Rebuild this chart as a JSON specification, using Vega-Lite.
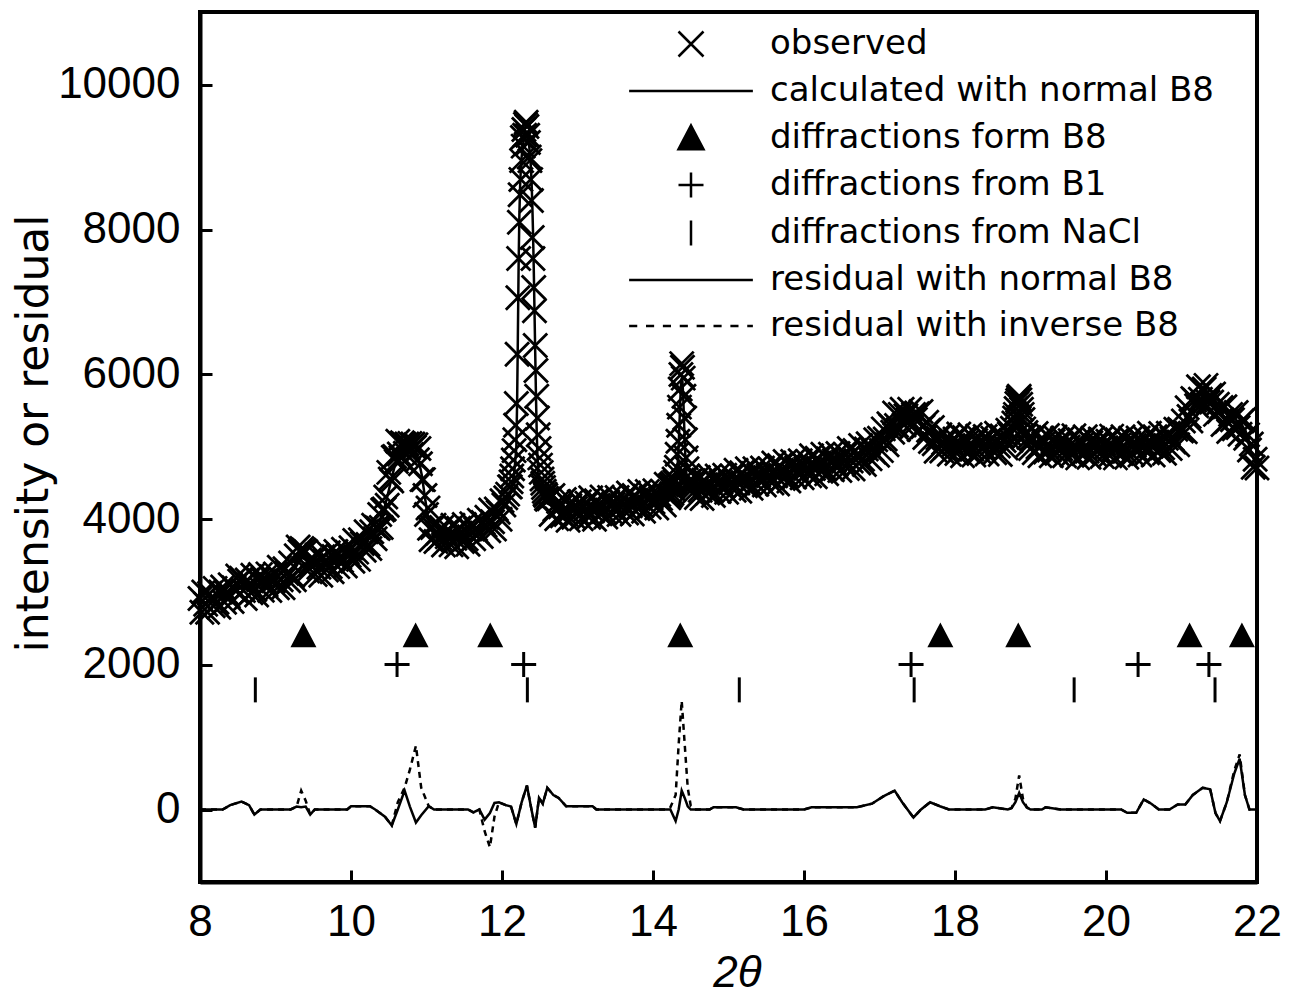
{
  "$schema": "https://vega.github.io/schema/vega-lite/v6.json",
  "width": 1057,
  "height": 870,
  "autosize": {"type": "none"},
  "padding": {"left": 200, "top": 12, "right": 37, "bottom": 114},
  "background": "white",
  "config": {
    "font": "Liberation Sans",
    "view": {"stroke": "black", "strokeWidth": 4},
    "axis": {"ticks": true, "tickColor": "black", "tickOpacity": 1}
  },
  "resolve": {"axis": {"x": "independent", "y": "independent"}},
  "datasets": {
    "obs": [
      {"t":8.000,"o":2910},{"t":8.025,"o":2720},{"t":8.050,"o":3000},{"t":8.075,"o":2830},{"t":8.100,"o":2720},{"t":8.125,"o":2980},{"t":8.150,"o":2920},{"t":8.175,"o":2810},{"t":8.200,"o":3050},{"t":8.225,"o":2860},{"t":8.250,"o":2790},{"t":8.275,"o":3000},{"t":8.300,"o":3070},{"t":8.325,"o":2860},{"t":8.350,"o":2990},{"t":8.375,"o":2940},{"t":8.400,"o":3100},{"t":8.425,"o":2870},{"t":8.450,"o":3060},{"t":8.475,"o":3015},{"t":8.500,"o":3220},{"t":8.525,"o":3150},{"t":8.550,"o":3190},{"t":8.575,"o":3020},{"t":8.600,"o":2910},{"t":8.625,"o":3165},{"t":8.650,"o":3100},{"t":8.675,"o":2990},{"t":8.700,"o":3230},{"t":8.725,"o":3035},{"t":8.750,"o":2960},{"t":8.775,"o":3170},{"t":8.800,"o":3240},{"t":8.825,"o":3025},{"t":8.850,"o":3150},{"t":8.875,"o":3095},{"t":8.900,"o":3250},{"t":8.925,"o":3020},{"t":8.950,"o":3210},{"t":8.975,"o":3155},{"t":9.000,"o":3250},{"t":9.025,"o":3060},{"t":9.050,"o":3340},{"t":9.075,"o":3170},{"t":9.100,"o":3060},{"t":9.125,"o":3320},{"t":9.150,"o":3260},{"t":9.175,"o":3155},{"t":9.200,"o":3400},{"t":9.225,"o":3225},{"t":9.250,"o":3170},{"t":9.275,"o":3500},{"t":9.300,"o":3620},{"t":9.325,"o":3560},{"t":9.350,"o":3600},{"t":9.375,"o":3580},{"t":9.400,"o":3560},{"t":9.425,"o":3290},{"t":9.450,"o":3440},{"t":9.475,"o":3365},{"t":9.500,"o":3440},{"t":9.525,"o":3240},{"t":9.550,"o":3510},{"t":9.575,"o":3340},{"t":9.600,"o":3230},{"t":9.625,"o":3485},{"t":9.650,"o":3420},{"t":9.675,"o":3305},{"t":9.700,"o":3540},{"t":9.725,"o":3350},{"t":9.750,"o":3280},{"t":9.775,"o":3490},{"t":9.800,"o":3560},{"t":9.825,"o":3350},{"t":9.850,"o":3480},{"t":9.875,"o":3430},{"t":9.900,"o":3590},{"t":9.925,"o":3360},{"t":9.950,"o":3550},{"t":9.975,"o":3505},{"t":10.000,"o":3610},{"t":10.025,"o":3425},{"t":10.050,"o":3710},{"t":10.075,"o":3550},{"t":10.100,"o":3450},{"t":10.125,"o":3720},{"t":10.150,"o":3670},{"t":10.175,"o":3575},{"t":10.200,"o":3830},{"t":10.225,"o":3655},{"t":10.250,"o":3600},{"t":10.275,"o":3830},{"t":10.300,"o":3920},
      {"t":10.32,"o":3735},{"t":10.34,"o":3890},{"t":10.36,"o":3875},{"t":10.38,"o":4070},{"t":10.40,"o":3890},{"t":10.42,"o":4130},{"t":10.44,"o":4145},{"t":10.46,"o":4310},{"t":10.48,"o":4195},{"t":10.50,"o":4650},{"t":10.52,"o":4560},{"t":10.54,"o":4530},{"t":10.56,"o":4860},{"t":10.58,"o":4870},{"t":10.60,"o":4800},{"t":10.62,"o":5080},{"t":10.64,"o":4905},{"t":10.66,"o":4850},{"t":10.68,"o":5060},{"t":10.70,"o":5040},{"t":10.72,"o":4915},{"t":10.74,"o":5040},{"t":10.76,"o":4985},{"t":10.78,"o":5050},{"t":10.80,"o":4895},{"t":10.82,"o":5040},{"t":10.84,"o":4995},{"t":10.86,"o":5030},{"t":10.88,"o":4825},{"t":10.90,"o":4980},{"t":10.92,"o":4770},{"t":10.94,"o":4550},{"t":10.96,"o":4550},{"t":10.98,"o":4330},{"t":11.00,"o":4070},{"t":11.02,"o":4160},{"t":11.04,"o":3880},{"t":11.06,"o":3720},{"t":11.08,"o":3890},{"t":11.10,"o":3920},
      {"t":11.125,"o":3695},{"t":11.150,"o":3810},{"t":11.175,"o":3745},{"t":11.200,"o":3890},{"t":11.225,"o":3648},{"t":11.250,"o":3825},{"t":11.275,"o":3762},{"t":11.300,"o":3850},{"t":11.325,"o":3650},{"t":11.350,"o":3920},{"t":11.375,"o":3742},{"t":11.400,"o":3625},{"t":11.425,"o":3878},{"t":11.450,"o":3810},{"t":11.475,"o":3695},{"t":11.500,"o":3930},{"t":11.525,"o":3735},{"t":11.550,"o":3660},{"t":11.575,"o":3870},{"t":11.600,"o":3940},{"t":11.625,"o":3735},{"t":11.650,"o":3870},{"t":11.675,"o":3825},{"t":11.700,"o":3990},{"t":11.725,"o":3765},{"t":11.750,"o":3960},{"t":11.775,"o":3920},{"t":11.800,"o":4030},{"t":11.825,"o":3845},{"t":11.850,"o":4130},{"t":11.875,"o":3970},{"t":11.900,"o":3870},{"t":11.925,"o":4145},{"t":11.950,"o":4100},{"t":11.975,"o":4005},{"t":12.000,"o":4260},{"t":12.025,"o":4200},{"t":12.050,"o":4300},{"t":12.075,"o":4350},{"t":12.100,"o":4450},
      {"t":12.11,"o":4450},{"t":12.12,"o":4520},{"t":12.13,"o":4600},{"t":12.14,"o":4700},{"t":12.15,"o":4820},{"t":12.16,"o":4950},{"t":12.17,"o":5100},{"t":12.18,"o":5300},{"t":12.19,"o":5600},{"t":12.20,"o":6280},{"t":12.21,"o":7060},{"t":12.22,"o":7600},{"t":12.23,"o":8100},{"t":12.24,"o":8480},{"t":12.25,"o":8690},{"t":12.26,"o":8950},{"t":12.27,"o":9270},{"t":12.28,"o":9150},{"t":12.29,"o":9380},{"t":12.30,"o":9300},{"t":12.31,"o":9450},{"t":12.32,"o":9480},{"t":12.33,"o":9420},{"t":12.34,"o":9300},{"t":12.35,"o":9200},{"t":12.36,"o":9000},{"t":12.37,"o":8950},{"t":12.38,"o":8690},{"t":12.39,"o":8400},{"t":12.40,"o":7890},{"t":12.41,"o":7600},{"t":12.42,"o":7200},{"t":12.43,"o":6880},{"t":12.44,"o":6400},{"t":12.45,"o":6055},{"t":12.46,"o":5700},{"t":12.47,"o":5400},{"t":12.48,"o":5170},{"t":12.49,"o":4980},{"t":12.50,"o":4850},{"t":12.51,"o":4750},{"t":12.52,"o":4650},{"t":12.53,"o":4560},{"t":12.54,"o":4500},{"t":12.55,"o":4440},{"t":12.56,"o":4390},{"t":12.57,"o":4350},{"t":12.58,"o":4330},{"t":12.59,"o":4290},{"t":12.60,"o":4280},
      {"t":12.625,"o":4285},{"t":12.650,"o":4070},{"t":12.675,"o":4330},{"t":12.700,"o":4140},{"t":12.725,"o":4010},{"t":12.750,"o":4250},{"t":12.775,"o":4175},{"t":12.800,"o":4050},{"t":12.825,"o":4275},{"t":12.850,"o":4070},{"t":12.875,"o":3990},{"t":12.900,"o":4190},{"t":12.925,"o":4250},{"t":12.950,"o":4030},{"t":12.975,"o":4150},{"t":13.000,"o":4090},{"t":13.025,"o":4245},{"t":13.050,"o":4010},{"t":13.075,"o":4190},{"t":13.100,"o":4130},{"t":13.125,"o":4225},{"t":13.150,"o":4030},{"t":13.175,"o":4300},{"t":13.200,"o":4120},{"t":13.225,"o":4005},{"t":13.250,"o":4260},{"t":13.275,"o":4195},{"t":13.300,"o":4080},{"t":13.325,"o":4310},{"t":13.350,"o":4110},{"t":13.375,"o":4035},{"t":13.400,"o":4240},{"t":13.425,"o":4305},{"t":13.450,"o":4090},{"t":13.475,"o":4210},{"t":13.500,"o":4150},{"t":13.525,"o":4305},{"t":13.550,"o":4070},{"t":13.575,"o":4255},{"t":13.600,"o":4200},{"t":13.625,"o":4290},{"t":13.650,"o":4090},{"t":13.675,"o":4365},{"t":13.700,"o":4190},{"t":13.725,"o":4075},{"t":13.750,"o":4330},{"t":13.775,"o":4265},{"t":13.800,"o":4150},{"t":13.825,"o":4385},{"t":13.850,"o":4190},{"t":13.875,"o":4115},{"t":13.900,"o":4320},{"t":13.925,"o":4385},{"t":13.950,"o":4170},{"t":13.975,"o":4295},{"t":14.000,"o":4240},{"t":14.025,"o":4395},{"t":14.050,"o":4160},{"t":14.075,"o":4345},{"t":14.100,"o":4290},{"t":14.125,"o":4390},{"t":14.150,"o":4200},{"t":14.175,"o":4485},{"t":14.200,"o":4320},
      {"t":14.21,"o":4300},{"t":14.22,"o":4460},{"t":14.23,"o":4330},{"t":14.24,"o":4480},{"t":14.25,"o":4360},{"t":14.26,"o":4500},{"t":14.27,"o":4420},{"t":14.28,"o":4560},{"t":14.29,"o":4520},{"t":14.30,"o":4650},{"t":14.31,"o":4720},{"t":14.32,"o":4900},{"t":14.33,"o":5080},{"t":14.34,"o":5300},{"t":14.35,"o":5550},{"t":14.36,"o":5800},{"t":14.37,"o":6000},{"t":14.38,"o":6150},{"t":14.39,"o":6100},{"t":14.40,"o":5950},{"t":14.41,"o":5700},{"t":14.42,"o":5400},{"t":14.43,"o":5100},{"t":14.44,"o":4850},{"t":14.45,"o":4700},{"t":14.46,"o":4600},{"t":14.47,"o":4520},{"t":14.48,"o":4480},{"t":14.49,"o":4530},{"t":14.50,"o":4400},{"t":14.52,"o":4500},{"t":14.54,"o":4380},
      {"t":14.550,"o":4500},{"t":14.575,"o":4305},{"t":14.600,"o":4580},{"t":14.625,"o":4405},{"t":14.650,"o":4290},{"t":14.675,"o":4545},{"t":14.700,"o":4480},{"t":14.725,"o":4365},{"t":14.750,"o":4600},{"t":14.775,"o":4405},{"t":14.800,"o":4330},{"t":14.825,"o":4535},{"t":14.850,"o":4600},{"t":14.875,"o":4385},{"t":14.900,"o":4510},{"t":14.925,"o":4455},{"t":14.950,"o":4610},{"t":14.975,"o":4375},{"t":15.000,"o":4560},{"t":15.025,"o":4505},{"t":15.050,"o":4600},{"t":15.075,"o":4405},{"t":15.100,"o":4680},{"t":15.125,"o":4505},{"t":15.150,"o":4390},{"t":15.175,"o":4645},{"t":15.200,"o":4580},{"t":15.225,"o":4465},{"t":15.250,"o":4700},{"t":15.275,"o":4505},{"t":15.300,"o":4430},{"t":15.325,"o":4635},{"t":15.350,"o":4700},{"t":15.375,"o":4485},{"t":15.400,"o":4610},{"t":15.425,"o":4555},{"t":15.450,"o":4710},{"t":15.475,"o":4475},{"t":15.500,"o":4660},{"t":15.525,"o":4605},{"t":15.550,"o":4700},{"t":15.575,"o":4505},{"t":15.600,"o":4780},{"t":15.625,"o":4605},{"t":15.650,"o":4490},{"t":15.675,"o":4745},{"t":15.700,"o":4680},{"t":15.725,"o":4565},{"t":15.750,"o":4800},{"t":15.775,"o":4605},{"t":15.800,"o":4530},{"t":15.825,"o":4735},{"t":15.850,"o":4800},{"t":15.875,"o":4585},{"t":15.900,"o":4710},{"t":15.925,"o":4655},{"t":15.950,"o":4810},{"t":15.975,"o":4575},{"t":16.000,"o":4760},{"t":16.025,"o":4705},{"t":16.050,"o":4800},{"t":16.075,"o":4605},{"t":16.100,"o":4880},{"t":16.125,"o":4705},{"t":16.150,"o":4590},{"t":16.175,"o":4845},{"t":16.200,"o":4780},{"t":16.225,"o":4665},{"t":16.250,"o":4900},{"t":16.275,"o":4705},{"t":16.300,"o":4630},{"t":16.325,"o":4835},{"t":16.350,"o":4900},{"t":16.375,"o":4685},{"t":16.400,"o":4810},{"t":16.425,"o":4755},{"t":16.450,"o":4910},{"t":16.475,"o":4675},{"t":16.500,"o":4860},{"t":16.525,"o":4803},{"t":16.550,"o":4895},{"t":16.575,"o":4703},{"t":16.600,"o":4980},{"t":16.625,"o":4808},{"t":16.650,"o":4695},{"t":16.675,"o":4953},{"t":16.700,"o":4890},{"t":16.725,"o":4780},{"t":16.750,"o":5020},{"t":16.775,"o":4830},{"t":16.800,"o":4760},{"t":16.825,"o":4973},{"t":16.850,"o":5045},{"t":16.875,"o":4838},{"t":16.900,"o":4970},{"t":16.925,"o":4930},{"t":16.950,"o":5100},{"t":16.975,"o":4885},
      {"t":17.000,"o":5120},{"t":17.025,"o":4950},{"t":17.050,"o":5250},{"t":17.075,"o":5110},{"t":17.100,"o":5030},{"t":17.125,"o":5320},{"t":17.150,"o":5290},{"t":17.175,"o":5205},{"t":17.200,"o":5470},{"t":17.225,"o":5295},{"t":17.250,"o":5240},{"t":17.275,"o":5450},{"t":17.300,"o":5520},{"t":17.325,"o":5305},{"t":17.350,"o":5430},{"t":17.375,"o":5370},{"t":17.400,"o":5520},{"t":17.425,"o":5275},{"t":17.450,"o":5450},{"t":17.475,"o":5380},{"t":17.500,"o":5460},{"t":17.525,"o":5240},{"t":17.550,"o":5490},{"t":17.575,"o":5280},{"t":17.600,"o":5130},{"t":17.625,"o":5340},{"t":17.650,"o":5230},{"t":17.675,"o":5075},{"t":17.700,"o":5270},{"t":17.725,"o":5045},{"t":17.750,"o":4940},{"t":17.775,"o":5125},{"t":17.800,"o":5170},{"t":17.825,"o":4945},{"t":17.850,"o":5060},{"t":17.875,"o":4995},{"t":17.900,"o":5140},{"t":17.925,"o":4900},{"t":17.950,"o":5080},{"t":17.975,"o":5020},{"t":18.000,"o":5110},
      {"t":18.025,"o":4910},{"t":18.050,"o":5180},{"t":18.075,"o":5000},{"t":18.100,"o":4880},{"t":18.125,"o":5130},{"t":18.150,"o":5060},{"t":18.175,"o":4940},{"t":18.200,"o":5170},{"t":18.225,"o":4970},{"t":18.250,"o":4890},{"t":18.275,"o":5090},{"t":18.300,"o":5150},{"t":18.325,"o":4930},{"t":18.350,"o":5050},{"t":18.375,"o":4993},{"t":18.400,"o":5145},{"t":18.425,"o":4905},{"t":18.450,"o":5085},{"t":18.475,"o":5028},{"t":18.500,"o":5120},{"t":18.525,"o":4920},{"t":18.550,"o":5190},{"t":18.575,"o":5013},{"t":18.600,"o":4895},{"t":18.625,"o":5152},{"t":18.650,"o":5090},{"t":18.675,"o":4985},{"t":18.700,"o":5230},
      {"t":18.72,"o":5180},{"t":18.74,"o":5090},{"t":18.76,"o":5260},{"t":18.78,"o":5330},{"t":18.79,"o":5400},{"t":18.80,"o":5450},{"t":18.81,"o":5530},{"t":18.82,"o":5600},{"t":18.83,"o":5640},{"t":18.84,"o":5680},{"t":18.85,"o":5700},{"t":18.86,"o":5650},{"t":18.87,"o":5590},{"t":18.88,"o":5520},{"t":18.89,"o":5450},{"t":18.90,"o":5380},{"t":18.91,"o":5250},{"t":18.92,"o":5150},{"t":18.94,"o":5200},{"t":18.96,"o":5020},{"t":18.98,"o":5130},{"t":19.00,"o":4980},
      {"t":19.025,"o":5125},{"t":19.050,"o":4920},{"t":19.075,"o":5185},{"t":19.100,"o":5000},{"t":19.125,"o":4878},{"t":19.150,"o":5125},{"t":19.175,"o":5052},{"t":19.200,"o":4930},{"t":19.225,"o":5160},{"t":19.250,"o":4960},{"t":19.275,"o":4880},{"t":19.300,"o":5080},{"t":19.325,"o":5138},{"t":19.350,"o":4915},{"t":19.375,"o":5035},{"t":19.400,"o":4975},{"t":19.425,"o":5122},{"t":19.450,"o":4880},{"t":19.475,"o":5060},{"t":19.500,"o":5000},{"t":19.525,"o":5088},{"t":19.550,"o":4885},{"t":19.575,"o":5155},{"t":19.600,"o":4975},{"t":19.625,"o":4850},{"t":19.650,"o":5100},{"t":19.675,"o":5030},{"t":19.700,"o":4910},{"t":19.725,"o":5140},{"t":19.750,"o":4940},{"t":19.775,"o":4860},{"t":19.800,"o":5060},{"t":19.825,"o":5120},{"t":19.850,"o":4900},{"t":19.875,"o":5020},{"t":19.900,"o":4960},{"t":19.925,"o":5110},{"t":19.950,"o":4870},{"t":19.975,"o":5050},{"t":20.000,"o":4990},{"t":20.025,"o":5080},{"t":20.050,"o":4880},{"t":20.075,"o":5150},{"t":20.100,"o":4970},{"t":20.125,"o":4850},{"t":20.150,"o":5100},{"t":20.175,"o":5030},{"t":20.200,"o":4910},{"t":20.225,"o":5140},{"t":20.250,"o":4940},{"t":20.275,"o":4860},{"t":20.300,"o":5060},{"t":20.325,"o":5120},{"t":20.350,"o":4900},{"t":20.375,"o":5025},{"t":20.400,"o":4970},{"t":20.425,"o":5125},{"t":20.450,"o":4890},{"t":20.475,"o":5075},{"t":20.500,"o":5020},{"t":20.525,"o":5115},{"t":20.550,"o":4920},{"t":20.575,"o":5190},{"t":20.600,"o":5010},{"t":20.625,"o":4890},{"t":20.650,"o":5140},{"t":20.675,"o":5070},{"t":20.700,"o":4950},{"t":20.725,"o":5185},{"t":20.750,"o":4990},{"t":20.775,"o":4915},{"t":20.800,"o":5120},{"t":20.825,"o":5190},{"t":20.850,"o":4980},{"t":20.875,"o":5115},{"t":20.900,"o":5070},{"t":20.925,"o":5245},{"t":20.950,"o":5030},{"t":20.975,"o":5245},{"t":21.000,"o":5220},
      {"t":21.025,"o":5360},{"t":21.050,"o":5210},{"t":21.075,"o":5540},{"t":21.100,"o":5420},{"t":21.125,"o":5360},{"t":21.150,"o":5670},{"t":21.175,"o":5645},{"t":21.200,"o":5570},{"t":21.225,"o":5830},{"t":21.250,"o":5660},{"t":21.275,"o":5590},{"t":21.300,"o":5800},{"t":21.325,"o":5850},{"t":21.350,"o":5620},{"t":21.375,"o":5710},{"t":21.400,"o":5620},{"t":21.425,"o":5730},{"t":21.450,"o":5450},{"t":21.475,"o":5590},{"t":21.500,"o":5490},{"t":21.525,"o":5545},{"t":21.550,"o":5310},{"t":21.575,"o":5555},{"t":21.600,"o":5350},{"t":21.625,"o":5215},{"t":21.650,"o":5450},{"t":21.675,"o":5375},{"t":21.700,"o":5250},{"t":21.725,"o":5475},{"t":21.750,"o":5270},{"t":21.775,"o":5175},{"t":21.800,"o":5360},{"t":21.825,"o":5380},{"t":21.850,"o":5120},{"t":21.875,"o":5170},{"t":21.900,"o":4960},{"t":21.925,"o":5040},{"t":21.950,"o":4720},{"t":21.975,"o":4830},{"t":22.000,"o":4710}
    ],
    "calc": [
      {"t":8.00,"c":2830},{"t":8.10,"c":2870},{"t":8.20,"c":2910},{"t":8.30,"c":2950},{"t":8.40,"c":2990},{"t":8.50,"c":3040},{"t":8.60,"c":3060},{"t":8.70,"c":3090},{"t":8.80,"c":3120},{"t":8.90,"c":3140},{"t":9.00,"c":3170},{"t":9.10,"c":3210},{"t":9.20,"c":3260},{"t":9.25,"c":3310},{"t":9.30,"c":3400},{"t":9.35,"c":3470},{"t":9.40,"c":3450},{"t":9.45,"c":3390},{"t":9.50,"c":3360},{"t":9.60,"c":3380},{"t":9.70,"c":3400},{"t":9.80,"c":3440},{"t":9.90,"c":3480},{"t":10.00,"c":3530},{"t":10.10,"c":3600},{"t":10.20,"c":3690},{"t":10.30,"c":3800},
      {"t":10.34,"c":3870},{"t":10.38,"c":3960},{"t":10.42,"c":4080},{"t":10.46,"c":4230},{"t":10.50,"c":4400},{"t":10.54,"c":4580},{"t":10.58,"c":4740},{"t":10.62,"c":4840},{"t":10.66,"c":4890},{"t":10.70,"c":4910},{"t":10.74,"c":4920},{"t":10.78,"c":4930},{"t":10.82,"c":4920},{"t":10.86,"c":4890},{"t":10.90,"c":4800},{"t":10.94,"c":4600},{"t":10.98,"c":4300},{"t":11.02,"c":4020},{"t":11.06,"c":3860},{"t":11.10,"c":3800},
      {"t":11.20,"c":3780},{"t":11.30,"c":3770},{"t":11.40,"c":3775},{"t":11.50,"c":3790},{"t":11.60,"c":3820},{"t":11.70,"c":3880},{"t":11.80,"c":3950},{"t":11.90,"c":4020},{"t":12.00,"c":4120},{"t":12.05,"c":4200},{"t":12.10,"c":4320},
      {"t":12.12,"c":4390},{"t":12.14,"c":4480},{"t":12.16,"c":4620},{"t":12.18,"c":4860},{"t":12.19,"c":5000},{"t":12.20,"c":5600},{"t":12.21,"c":6500},{"t":12.22,"c":7500},{"t":12.23,"c":8200},{"t":12.24,"c":8600},{"t":12.25,"c":8850},{"t":12.26,"c":9000},{"t":12.27,"c":9100},{"t":12.28,"c":9180},{"t":12.29,"c":9240},{"t":12.30,"c":9280},{"t":12.31,"c":9300},{"t":12.32,"c":9310},{"t":12.33,"c":9300},{"t":12.34,"c":9270},{"t":12.35,"c":9220},{"t":12.36,"c":9150},{"t":12.37,"c":9050},{"t":12.38,"c":8900},{"t":12.39,"c":8700},{"t":12.40,"c":8400},{"t":12.41,"c":8000},{"t":12.42,"c":7500},{"t":12.43,"c":6900},{"t":12.44,"c":6300},{"t":12.45,"c":5700},{"t":12.46,"c":5200},{"t":12.47,"c":4850},{"t":12.48,"c":4650},{"t":12.49,"c":4530},{"t":12.50,"c":4460},{"t":12.52,"c":4370},{"t":12.54,"c":4310},{"t":12.56,"c":4270},{"t":12.58,"c":4240},{"t":12.60,"c":4220},
      {"t":12.70,"c":4170},{"t":12.80,"c":4140},{"t":12.90,"c":4130},{"t":13.00,"c":4130},{"t":13.20,"c":4150},{"t":13.40,"c":4180},{"t":13.60,"c":4210},{"t":13.80,"c":4240},{"t":14.00,"c":4280},{"t":14.10,"c":4300},{"t":14.20,"c":4350},
      {"t":14.22,"c":4370},{"t":14.24,"c":4390},{"t":14.26,"c":4420},{"t":14.28,"c":4460},{"t":14.30,"c":4530},{"t":14.31,"c":4590},{"t":14.32,"c":4680},{"t":14.33,"c":4820},{"t":14.34,"c":5020},{"t":14.35,"c":5300},{"t":14.36,"c":5600},{"t":14.37,"c":5850},{"t":14.38,"c":5950},{"t":14.39,"c":5900},{"t":14.40,"c":5700},{"t":14.41,"c":5400},{"t":14.42,"c":5080},{"t":14.43,"c":4830},{"t":14.44,"c":4660},{"t":14.45,"c":4560},{"t":14.46,"c":4500},{"t":14.48,"c":4450},{"t":14.50,"c":4430},{"t":14.55,"c":4420},
      {"t":14.70,"c":4440},{"t":15.00,"c":4500},{"t":15.30,"c":4560},{"t":15.60,"c":4620},{"t":15.90,"c":4680},{"t":16.20,"c":4740},{"t":16.50,"c":4800},{"t":16.60,"c":4830},{"t":16.70,"c":4860},{"t":16.80,"c":4900},{"t":16.90,"c":4950},{"t":16.95,"c":4990},
      {"t":17.00,"c":5040},{"t":17.05,"c":5100},{"t":17.10,"c":5180},{"t":17.15,"c":5260},{"t":17.20,"c":5330},{"t":17.25,"c":5380},{"t":17.30,"c":5400},{"t":17.35,"c":5410},{"t":17.40,"c":5410},{"t":17.45,"c":5400},{"t":17.50,"c":5380},{"t":17.55,"c":5340},{"t":17.60,"c":5280},{"t":17.65,"c":5200},{"t":17.70,"c":5130},{"t":17.75,"c":5080},{"t":17.80,"c":5050},{"t":17.90,"c":5030},{"t":18.00,"c":5030},{"t":18.40,"c":5035},{"t":18.60,"c":5045},{"t":18.65,"c":5060},{"t":18.70,"c":5090},
      {"t":18.72,"c":5110},{"t":18.74,"c":5140},{"t":18.76,"c":5190},{"t":18.78,"c":5260},{"t":18.80,"c":5350},{"t":18.82,"c":5440},{"t":18.84,"c":5490},{"t":18.86,"c":5470},{"t":18.88,"c":5390},{"t":18.90,"c":5290},{"t":18.92,"c":5200},{"t":18.94,"c":5130},{"t":18.96,"c":5090},{"t":18.98,"c":5060},{"t":19.00,"c":5050},
      {"t":19.20,"c":5020},{"t":19.60,"c":5005},{"t":20.00,"c":5000},{"t":20.35,"c":5000},{"t":20.50,"c":5030},{"t":20.70,"c":5040},{"t":20.80,"c":5060},{"t":20.85,"c":5080},{"t":20.90,"c":5110},{"t":20.95,"c":5160},{"t":21.00,"c":5230},
      {"t":21.05,"c":5330},{"t":21.10,"c":5450},{"t":21.15,"c":5570},{"t":21.20,"c":5660},{"t":21.25,"c":5720},{"t":21.30,"c":5740},{"t":21.35,"c":5720},{"t":21.40,"c":5660},{"t":21.45,"c":5580},{"t":21.50,"c":5500},{"t":21.55,"c":5430},{"t":21.60,"c":5380},{"t":21.65,"c":5350},{"t":21.70,"c":5340},{"t":21.75,"c":5330},{"t":21.80,"c":5300},{"t":21.85,"c":5220},{"t":21.90,"c":5000},{"t":21.95,"c":4850},{"t":22.00,"c":4720}
    ],
    "res": [
      {"t":8.00,"n":0,"i":0},{"t":8.30,"n":0,"i":0},{"t":8.40,"n":60,"i":60},{"t":8.55,"n":110,"i":110},{"t":8.65,"n":60,"i":60},{"t":8.72,"n":-70,"i":-70},{"t":8.80,"n":0,"i":0},{"t":9.20,"n":0,"i":0},{"t":9.28,"n":40,"i":40},{"t":9.34,"n":30,"i":260},{"t":9.40,"n":40,"i":120},{"t":9.46,"n":-70,"i":-70},{"t":9.52,"n":0,"i":0},{"t":9.95,"n":0,"i":0},{"t":10.00,"n":45,"i":45},{"t":10.25,"n":45,"i":45},{"t":10.32,"n":0,"i":0},{"t":10.45,"n":-100,"i":-100},{"t":10.54,"n":-220,"i":-220},{"t":10.62,"n":0,"i":100},{"t":10.71,"n":260,"i":300},{"t":10.78,"n":40,"i":550},{"t":10.86,"n":-180,"i":880},{"t":10.93,"n":-80,"i":300},{"t":11.03,"n":45,"i":45},{"t":11.10,"n":0,"i":0},{"t":11.55,"n":0,"i":0},{"t":11.62,"n":-40,"i":-40},{"t":11.70,"n":0,"i":0},{"t":11.77,"n":-140,"i":-300},{"t":11.84,"n":-50,"i":-520},{"t":11.90,"n":90,"i":-100},{"t":11.96,"n":100,"i":100},{"t":12.05,"n":60,"i":60},{"t":12.12,"n":40,"i":40},{"t":12.19,"n":-200,"i":-200},{"t":12.26,"n":100,"i":100},{"t":12.33,"n":330,"i":330},{"t":12.39,"n":0,"i":0},{"t":12.44,"n":-250,"i":-250},{"t":12.49,"n":160,"i":160},{"t":12.54,"n":80,"i":80},{"t":12.60,"n":300,"i":300},{"t":12.68,"n":200,"i":200},{"t":12.75,"n":160,"i":160},{"t":12.85,"n":45,"i":45},{"t":13.20,"n":45,"i":45},{"t":13.25,"n":0,"i":0},{"t":14.18,"n":0,"i":0},{"t":14.23,"n":0,"i":30},{"t":14.30,"n":-160,"i":200},{"t":14.34,"n":0,"i":900},{"t":14.38,"n":260,"i":1500},{"t":14.42,"n":160,"i":900},{"t":14.46,"n":45,"i":300},{"t":14.50,"n":0,"i":50},{"t":14.55,"n":0,"i":0},{"t":14.75,"n":0,"i":0},{"t":14.80,"n":30,"i":30},{"t":15.10,"n":30,"i":30},{"t":15.20,"n":0,"i":0},{"t":16.00,"n":0,"i":0},{"t":16.10,"n":30,"i":30},{"t":16.70,"n":30,"i":30},{"t":16.90,"n":80,"i":80},{"t":17.05,"n":180,"i":180},{"t":17.20,"n":260,"i":260},{"t":17.30,"n":100,"i":100},{"t":17.45,"n":-110,"i":-110},{"t":17.55,"n":0,"i":0},{"t":17.67,"n":100,"i":100},{"t":17.80,"n":45,"i":45},{"t":17.92,"n":0,"i":0},{"t":18.40,"n":0,"i":0},{"t":18.50,"n":30,"i":30},{"t":18.70,"n":0,"i":0},{"t":18.75,"n":20,"i":20},{"t":18.80,"n":100,"i":150},{"t":18.85,"n":230,"i":470},{"t":18.90,"n":100,"i":150},{"t":18.95,"n":30,"i":30},{"t":19.00,"n":0,"i":0},{"t":19.15,"n":0,"i":0},{"t":19.20,"n":30,"i":30},{"t":19.40,"n":0,"i":0},{"t":20.20,"n":0,"i":0},{"t":20.28,"n":-45,"i":-45},{"t":20.40,"n":-45,"i":-45},{"t":20.50,"n":140,"i":140},{"t":20.60,"n":80,"i":80},{"t":20.70,"n":0,"i":0},{"t":20.84,"n":0,"i":0},{"t":20.95,"n":70,"i":70},{"t":21.05,"n":70,"i":70},{"t":21.15,"n":200,"i":200},{"t":21.28,"n":300,"i":300},{"t":21.38,"n":280,"i":280},{"t":21.45,"n":-50,"i":-50},{"t":21.51,"n":-160,"i":-160},{"t":21.60,"n":100,"i":100},{"t":21.70,"n":500,"i":540},{"t":21.77,"n":700,"i":760},{"t":21.84,"n":200,"i":200},{"t":21.90,"n":0,"i":0},{"t":22.00,"n":0,"i":0}
    ],
    "refl": [
      {"t":9.37,"p":"B8"},{"t":10.856,"p":"B8"},{"t":11.844,"p":"B8"},{"t":14.361,"p":"B8"},{"t":17.806,"p":"B8"},{"t":18.838,"p":"B8"},{"t":21.107,"p":"B8"},{"t":21.80,"p":"B8"},
      {"t":10.61,"p":"B1"},{"t":12.287,"p":"B1"},{"t":17.418,"p":"B1"},{"t":20.425,"p":"B1"},{"t":21.363,"p":"B1"},
      {"t":8.733,"p":"NaCl"},{"t":12.336,"p":"NaCl"},{"t":15.143,"p":"NaCl"},{"t":17.459,"p":"NaCl"},{"t":19.578,"p":"NaCl"},{"t":21.444,"p":"NaCl"}
    ]
  },
  "encoding": {
    "x": {
      "field": "t",
      "type": "quantitative",
      "scale": {"domain": [8, 22], "nice": false, "zero": false},
      "axis": null
    }
  },
  "layer": [
    {
      "data": {"name": "obs"},
      "mark": {"type": "point", "filled": false, "color": "black", "stroke": "black", "strokeWidth": 2.8, "size": 576, "opacity": 1},
      "encoding": {
        "x": {
          "field": "t",
          "type": "quantitative",
          "scale": {"domain": [8, 22], "nice": false, "zero": false},
          "axis": {
            "orient": "bottom",
            "values": [8, 10, 12, 14, 16, 18, 20, 22],
            "format": "d",
            "grid": false,
            "title": "2θ",
            "domainColor": "black",
            "domainWidth": 4,
            "ticks": true,
            "tickSize": -12,
            "tickWidth": 3,
            "tickColor": "black",
            "labelFont": "Liberation Sans",
            "labelFontSize": 44,
            "labelColor": "black",
            "labelPadding": 30,
            "labelFlush": false,
            "labelOverlap": false,
            "titleFont": "Liberation Sans",
            "titleFontSize": 44,
            "titleFontStyle": "italic",
            "titleFontWeight": "normal",
            "titleColor": "black",
            "titleX": 537,
            "titleY": 91,
            "titleAlign": "center",
            "titleBaseline": "middle"
          }
        },
        "y": {
          "field": "o",
          "type": "quantitative",
          "scale": {"domain": [-1000, 11000], "nice": false, "zero": false},
          "axis": {
            "orient": "left",
            "values": [0, 2000, 4000, 6000, 8000, 10000],
            "format": "d",
            "grid": false,
            "title": "intensity or residual",
            "domainColor": "black",
            "domainWidth": 4,
            "ticks": true,
            "tickSize": -12,
            "tickWidth": 3,
            "tickColor": "black",
            "labelFont": "Liberation Sans",
            "labelFontSize": 44,
            "labelColor": "black",
            "labelPadding": 32,
            "labelFlush": false,
            "labelOverlap": false,
            "titleFont": "DejaVu Sans",
            "titleFontSize": 44,
            "titleFontWeight": "normal",
            "titleColor": "black",
            "titleAngle": 270,
            "titleX": -166,
            "titleY": 421,
            "titleAlign": "center",
            "titleBaseline": "middle"
          }
        },
        "shape": {
          "datum": "observed",
          "type": "nominal",
          "scale": {
            "domain": ["observed", "calculated with normal B8", "diffractions form B8", "diffractions from B1", "diffractions from NaCl", "residual with normal B8", "residual with inverse B8"],
            "range": [
              "M-1,-1L1,1M-1,1L1,-1M-4.95,0L-4.95,0M4.95,0L4.95,0",
              "M-4.95,0L4.95,0",
              "M0,-1L1,0.9L-1,0.9ZM-4.95,0L-4.95,0M4.95,0L4.95,0",
              "M-1,0L1,0M0,-1L0,1M-4.95,0L-4.95,0M4.95,0L4.95,0",
              "M0,-1L0,1M-4.95,0L-4.95,0M4.95,0L4.95,0",
              "M-4.95,0L4.95,0",
              "M-4.95,0L-4.3,0M-3.6,0L-2.95,0M-2.25,0L-1.6,0M-0.9,0L-0.25,0M0.45,0L1.1,0M1.8,0L2.45,0M3.15,0L3.8,0M4.5,0L4.95,0"
            ]
          },
          "legend": {
            "title": null,
            "orient": "none",
            "legendX": 474,
            "legendY": 15,
            "padding": 0,
            "offset": 0,
            "symbolSize": 625,
            "symbolStrokeWidth": 2.5,
            "symbolFillColor": "black",
            "symbolStrokeColor": "black",
            "symbolOffset": 0,
            "labelFont": "DejaVu Sans",
            "labelFontSize": 34,
            "labelColor": "black",
            "labelOffset": 62,
            "labelLimit": 0,
            "rowPadding": 12,
            "symbolLimit": 0,
            "encoding": {
              "symbols": {
                "fill": {"value": "black"},
                "stroke": {"value": "black"},
                "strokeWidth": {"value": 2.5},
                "opacity": {"value": 1}
              }
            }
          }
        }
      }
    },
    {
      "data": {"name": "calc"},
      "mark": {"type": "line", "color": "black", "strokeWidth": 2.5},
      "encoding": {
        "y": {"field": "c", "type": "quantitative", "axis": null}
      }
    },
    {
      "data": {"name": "res"},
      "mark": {"type": "line", "color": "black", "strokeWidth": 2.5, "strokeDash": [6, 5]},
      "encoding": {
        "y": {"field": "i", "type": "quantitative", "axis": null}
      }
    },
    {
      "data": {"name": "res"},
      "mark": {"type": "line", "color": "black", "strokeWidth": 2.5},
      "encoding": {
        "y": {"field": "n", "type": "quantitative", "axis": null}
      }
    },
    {
      "data": {"name": "refl"},
      "transform": [{"filter": "datum.p === 'B8'"}],
      "mark": {"type": "point", "filled": true, "color": "black", "strokeWidth": 0, "size": 676, "opacity": 1},
      "encoding": {
        "y": {"datum": 2400, "type": "quantitative", "axis": null},
        "shape": {"datum": "diffractions form B8", "type": "nominal"}
      }
    },
    {
      "data": {"name": "refl"},
      "transform": [{"filter": "datum.p === 'B1'"}],
      "mark": {"type": "point", "filled": false, "color": "black", "strokeWidth": 3, "size": 625, "opacity": 1},
      "encoding": {
        "y": {"datum": 2000, "type": "quantitative", "axis": null},
        "shape": {"datum": "diffractions from B1", "type": "nominal"}
      }
    },
    {
      "data": {"name": "refl"},
      "transform": [{"filter": "datum.p === 'NaCl'"}],
      "mark": {"type": "point", "filled": false, "color": "black", "strokeWidth": 3, "size": 625, "opacity": 1},
      "encoding": {
        "y": {"datum": 1650, "type": "quantitative", "axis": null},
        "shape": {"datum": "diffractions from NaCl", "type": "nominal"}
      }
    }
  ]
}
